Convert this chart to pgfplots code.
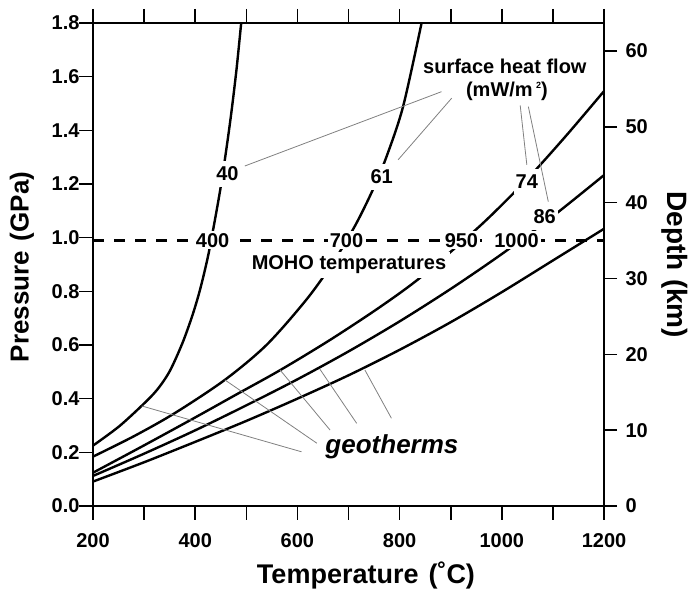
\documentclass[border=0pt]{standalone}
\usepackage{fontspec}
\setmainfont{Liberation Sans}
\usepackage{pgfplots}
\pgfplotsset{compat=1.18}

\newcommand{\lbl}{\fontsize{20}{20}\selectfont\bfseries}
\newcommand{\ttl}{\fontsize{27}{27}\selectfont\bfseries}

\begin{document}
\begin{tikzpicture}
\useasboundingbox (-93pt,-87pt) rectangle (597pt,506pt);
\begin{axis}[
  at={(0pt,0pt)}, anchor=south west,
  scale only axis, width=511pt, height=483pt,
  xmin=200, xmax=1200, ymin=0, ymax=1.8,
  xtick={200,400,...,1200}, minor x tick num=1,
  ytick={0,0.2,0.4,0.6,0.8,1.0,1.2,1.4,1.6,1.8},
  xticklabel pos=lower, xtick pos=both, ytick pos=left,
  tick align=outside,
  major tick length=14pt, minor tick length=14pt,
  tick style={black, line width=1.6pt},
  axis line style={line width=2.6pt},
  ticklabel style={font=\lbl},
  /pgf/number format/assume math mode=true,
  xticklabel style={/pgf/number format/1000 sep={}, yshift=-10pt},
  yticklabel style={/pgf/number format/.cd, fixed, fixed zerofill, precision=1, /tikz/.cd, xshift=4pt},
  clip=false,
]
% geotherms (surface heat flow 40, 61, 74, 86 and the lowest one)
\addplot[black, line width=2.4pt, smooth] coordinates {(200,0.225) (250,0.295) (295,0.373) (325,0.432) (350,0.502) (375,0.607) (395,0.713) (410,0.81) (425,0.93) (438,1.06) (450,1.19) (461,1.33) (471,1.47) (481,1.63) (490,1.8)};
\addplot[black, line width=2.4pt, smooth] coordinates {(200,0.184) (280,0.26) (360,0.346) (458,0.47) (540,0.601) (618,0.77) (670,0.908) (713,1.045) (748,1.18) (775,1.305) (807,1.49) (843,1.8)};
\addplot[black, line width=2.4pt, smooth] coordinates {(200,0.124) (300,0.226) (400,0.33) (480,0.415) (566,0.506) (664,0.619) (762,0.742) (843,0.855) (954,1.038) (1022,1.164) (1068,1.256) (1130,1.389) (1200,1.546)};
\addplot[black, line width=2.4pt, smooth] coordinates {(200,0.112) (300,0.195) (400,0.282) (500,0.375) (600,0.472) (700,0.576) (800,0.688) (900,0.809) (1000,0.939) (1100,1.080) (1200,1.233)};
\addplot[black, line width=2.4pt, smooth] coordinates {(200,0.091) (300,0.163) (400,0.239) (500,0.317) (600,0.400) (700,0.487) (800,0.582) (900,0.685) (1000,0.797) (1100,0.915) (1200,1.033)};
% Moho
\addplot[black, line width=2.5pt, dash pattern=on 11pt off 10pt] coordinates {(200,0.99) (1200,0.99)};

% leaders
\begin{scope}[gray, line width=0.8pt]
\draw (axis cs:882,1.544) -- (axis cs:497,1.267);
\draw (axis cs:902,1.520) -- (axis cs:797,1.290);
\draw (axis cs:1036,1.493) -- (axis cs:1049,1.271);
\draw (axis cs:1052,1.488) -- (axis cs:1091,1.134);
\draw (axis cs:295,0.373) -- (axis cs:608,0.202);
\draw (axis cs:458,0.470) -- (axis cs:638,0.234);
\draw (axis cs:566,0.507) -- (axis cs:664,0.283);
\draw (axis cs:644,0.510) -- (axis cs:716,0.308);
\draw (axis cs:732,0.507) -- (axis cs:784,0.327);
\end{scope}

\begin{scope}[every node/.style={fill=white, font=\lbl, inner xsep=2pt, inner ysep=6pt}]
\node at (axis cs:463,1.237) {40};
\node at (axis cs:765,1.227) {61};
\node at (axis cs:1049,1.209) {74};
\node at (axis cs:1084,1.078) {86};
\end{scope}
\begin{scope}[every node/.style={fill=white, font=\lbl, inner sep=2pt}]
\node at (axis cs:434,0.99) {400};
\node at (axis cs:696,0.99) {700};
\node at (axis cs:921,0.99) {950};
\node at (axis cs:1029,0.99) {1000};
\node[inner sep=4pt] at (axis cs:701,0.898) {MOHO temperatures};
\node[inner sep=1pt] at (axis cs:1006,1.637) {surface heat flow};
\node[inner sep=1pt] at (axis cs:1010,1.544) {(mW/m\,{\fontsize{9}{9}\selectfont\raisebox{0.9em}{2}})};
\end{scope}
\node[font=\fontsize{26}{26}\selectfont\bfseries\itshape] at (axis cs:785,0.221) {geotherms};
\end{axis}

\begin{axis}[
  at={(0pt,0pt)}, anchor=south west,
  scale only axis, width=511pt, height=483pt,
  xmin=200, xmax=1200, ymin=0, ymax=63.7,
  axis x line=none, axis y line*=right,
  ytick={0,10,...,60},
  tick align=outside, major tick length=13pt,
  tick style={black, line width=1.6pt},
  axis line style={line width=2.6pt},
  ticklabel style={font=\lbl},
  yticklabel style={xshift=5pt},
  /pgf/number format/assume math mode=true,
]
\end{axis}

\node[rotate=90, font=\fontsize{26}{26}\selectfont\bfseries] at (-71pt,239pt) {Pressure\hspace{10pt}(GPa)};
\node[rotate=-90, font=\fontsize{28}{28}\selectfont\bfseries] at (582pt,241pt) {Depth\hspace{8pt}(km)};
\node[font=\ttl] at (273pt,-69pt) {Temperature\hspace{10pt}(˚C)};
\end{tikzpicture}
\end{document}
